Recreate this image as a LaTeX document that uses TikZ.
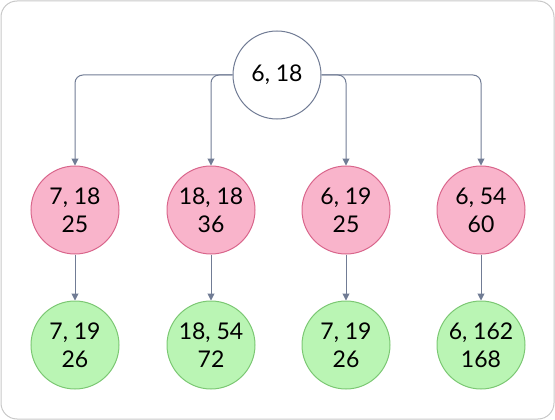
\documentclass[tikz,border=0pt]{standalone}
\usepackage{fontspec}
\setmainfont{Lato}
\usetikzlibrary{arrows.meta}
\definecolor{linec}{HTML}{717C95}
\definecolor{pinkf}{HTML}{F9B4CB}
\definecolor{pinkd}{HTML}{D9668C}
\definecolor{greenf}{HTML}{BAF5B4}
\definecolor{greend}{HTML}{7CC874}
\definecolor{framec}{HTML}{C8C8C8}
\begin{document}
\begin{tikzpicture}[x=1pt,y=-1pt,
  circ/.style={circle,minimum size=88pt,inner sep=0pt,line width=1pt,align=center,
    font=\fontsize{23}{28}\selectfont},
  rootc/.style={circ,draw=linec,fill=white},
  pinkc/.style={circ,draw=pinkd,fill=pinkf},
  greenc/.style={circ,draw=greend,fill=greenf},
  conn/.style={draw=linec,line width=1pt,-{Triangle[length=7pt,width=7pt]}}]
\useasboundingbox (0,0) rectangle (555,420);
\draw[framec,line width=1pt,rounded corners=16pt] (1,1) rectangle (554,419);
\node[rootc] (top) at (277,75) {6, 18};
\node[pinkc] (p1) at (75,210) {7, 18\\25};
\node[pinkc] (p2) at (211,210) {18, 18\\36};
\node[pinkc] (p3) at (346,210) {6, 19\\25};
\node[pinkc] (p4) at (481,210) {6, 54\\60};
\node[greenc] (g1) at (75,345) {7, 19\\26};
\node[greenc] (g2) at (211,345) {18, 54\\72};
\node[greenc] (g3) at (346,345) {7, 19\\26};
\node[greenc] (g4) at (481,345) {6, 162\\168};
\draw[conn,rounded corners=8pt] (top.west) -| (p1.north);
\draw[conn,rounded corners=8pt] (top.west) -| (p2.north);
\draw[conn,rounded corners=8pt] (top.east) -| (p3.north);
\draw[conn,rounded corners=8pt] (top.east) -| (p4.north);
\draw[conn] (p1) -- (g1);
\draw[conn] (p2) -- (g2);
\draw[conn] (p3) -- (g3);
\draw[conn] (p4) -- (g4);
\end{tikzpicture}
\end{document}
